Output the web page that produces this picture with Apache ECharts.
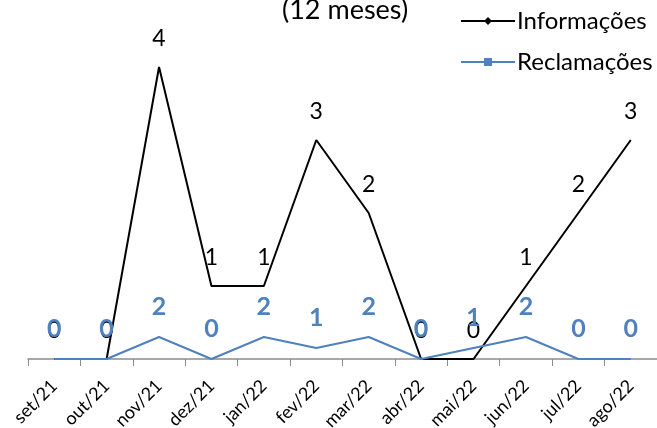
<!DOCTYPE html>
<html>
<head>
<meta charset="utf-8">
<script src="https://cdn.jsdelivr.net/npm/echarts@6/dist/echarts.min.js"></script>
<style>
  html, body { margin: 0; padding: 0; background: #fff; }
  #chart { width: 657px; height: 428px; }
</style>
</head>
<body>
<div id="chart"></div>
<script>
const months = ["set/21", "out/21", "nov/21", "dez/21", "jan/22", "fev/22",
  "mar/22", "abr/22", "mai/22", "jun/22", "jul/22", "ago/22"];
const informacoes = [0, 0, 4, 1, 1, 3, 2, 0, 0, 1, 2, 3];
const reclamacoes = [0, 0, 2, 0, 2, 1, 2, 0, 1, 2, 0, 0];

const chart = echarts.init(document.getElementById("chart"));
const font = "Lato, 'Open Sans', sans-serif";
const clear = "rgba(0,0,0,0)";

const option = {
  animation: false,
  title: {
    text: "(12 meses)",
    left: 277,
    top: -8,
    textStyle: { fontFamily: font, fontSize: 27, fontWeight: "normal", color: "#000" },
  },
  legend: {
    orient: "vertical",
    left: 455,
    top: 4,
    itemWidth: 54,
    itemHeight: 10,
    itemGap: 17,
    textStyle: { fontFamily: font, fontSize: 24, color: "#000", padding: [0, 0, 0, -3] },
    data: [
      { name: "Informações", itemStyle: { color: "#000" } },
      { name: "Reclamações", itemStyle: { color: "#4f81bd" } },
    ],
  },
  grid: { left: 28, right: 0, top: 67, bottom: 69, outerBoundsMode: "none" },
  xAxis: {
    type: "category",
    data: months,
    boundaryGap: true,
    axisLine: { lineStyle: { color: "#8c8c8c", width: 1.5 } },
    axisTick: { show: true, length: 7, lineStyle: { color: "#8c8c8c" } },
    axisLabel: {
      rotate: 45,
      interval: 0,
      margin: 24,
      fontFamily: font,
      fontSize: 18,
      color: "#000",
    },
  },
  yAxis: [
    { type: "value", min: 0, max: 4, show: false, splitLine: { show: false } },
    { type: "value", min: 0, max: 292 / 11, show: false, splitLine: { show: false } },
  ],
  series: [
    {
      name: "Informações",
      type: "line",
      yAxisIndex: 0,
      data: informacoes,
      symbol: "diamond",
      symbolSize: 7,
      showSymbol: true,
      lineStyle: { color: "#000", width: 2 },
      itemStyle: { color: clear, borderWidth: 0 },
      label: {
        show: true,
        position: "top",
        distance: 13,
        fontFamily: font,
        fontSize: 23,
        color: "#000",
      },
    },
    {
      name: "Reclamações",
      type: "line",
      yAxisIndex: 1,
      data: reclamacoes,
      symbol: "rect",
      symbolSize: 8,
      showSymbol: true,
      lineStyle: { color: "#4f81bd", width: 2 },
      itemStyle: { color: clear, borderWidth: 0 },
      label: {
        show: true,
        position: "top",
        distance: 14,
        fontFamily: font,
        fontSize: 25,
        fontWeight: "bold",
        color: "#4f81bd",
      },
    },
  ],
};

chart.setOption(option);
</script>
</body>
</html>
